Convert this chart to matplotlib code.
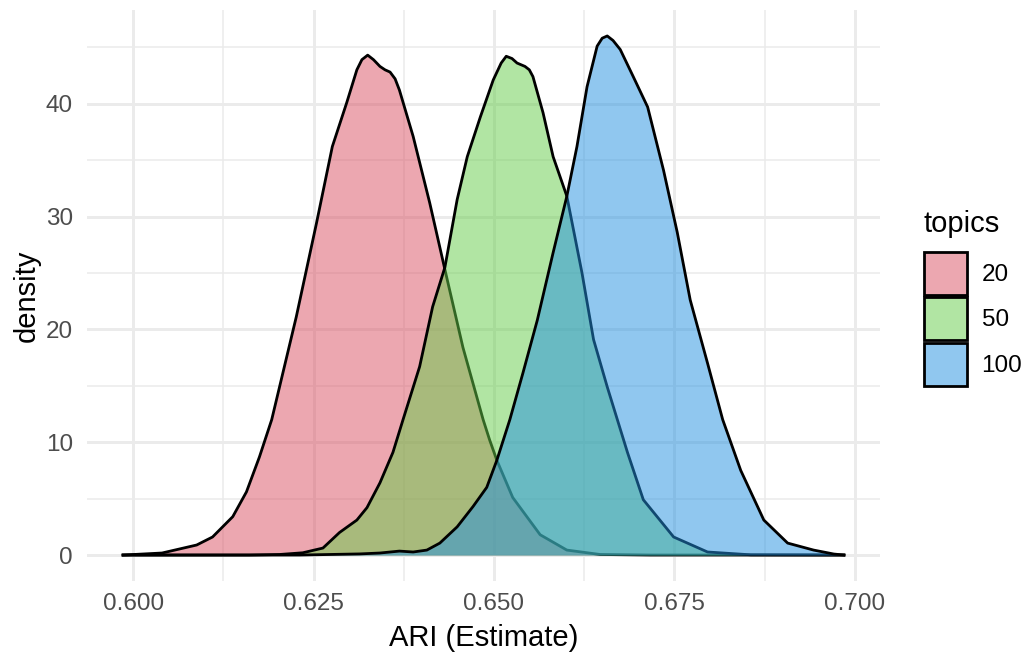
import matplotlib
matplotlib.use("Agg")
import matplotlib.pyplot as plt
from matplotlib.patches import Patch
from matplotlib.colors import to_rgba

plt.rcParams['font.family'] = ['Liberation Sans', 'DejaVu Sans']

# density curves (x = ARI estimate, y = density)
x20 = [0.5986, 0.6040, 0.6088, 0.6110, 0.6138, 0.6157, 0.6175, 0.6192, 0.6226,
       0.6254, 0.6276, 0.6296, 0.6310, 0.6317, 0.6325, 0.6333, 0.6342, 0.6349,
       0.6356, 0.6363, 0.6369, 0.6388, 0.6411, 0.6432, 0.6457, 0.6485, 0.6494,
       0.6504, 0.6526, 0.6564, 0.6601, 0.6647, 0.6717, 0.6985]
y20 = [0.0, 0.18, 0.89, 1.6, 3.4, 5.6, 8.7, 12.0, 21.1,
       29.4, 36.2, 40.1, 43.0, 43.9, 44.3, 43.9, 43.3, 43.0,
       42.8, 42.2, 41.2, 37.1, 31.2, 25.3, 18.4, 12.0, 10.2,
       8.4, 5.1, 1.8, 0.44, 0.05, 0.0, 0.0]

x50 = [0.5986, 0.6161, 0.6203, 0.6235, 0.6263, 0.6286, 0.6310, 0.6324, 0.6342,
       0.6360, 0.6374, 0.6397, 0.6415, 0.6432, 0.6449, 0.6463, 0.6481, 0.6499,
       0.6510, 0.6517, 0.6525, 0.6532, 0.6543, 0.6549, 0.6554, 0.6568, 0.6582,
       0.6601, 0.6622, 0.6638, 0.6657, 0.6671, 0.6685, 0.6707, 0.6749, 0.6796,
       0.6856, 0.6985]
y50 = [0.0, 0.0, 0.05, 0.2, 0.62, 2.0, 3.1, 4.2, 6.4,
       9.1, 12.0, 16.7, 22.0, 25.5, 31.5, 35.3, 38.8, 42.1,
       43.6, 44.2, 44.0, 43.6, 43.3, 43.0, 42.4, 39.2, 35.3,
       31.8, 25.0, 19.1, 14.9, 12.0, 9.1, 4.9, 1.6, 0.27,
       0.02, 0.0]

x100 = [0.5986, 0.6231, 0.6314, 0.6342, 0.6369, 0.6388, 0.6407, 0.6425, 0.6449,
        0.6471, 0.6490, 0.6504, 0.6513, 0.6522, 0.6540, 0.6560, 0.6582, 0.6601,
        0.6615, 0.6629, 0.6643, 0.6650, 0.6657, 0.6665, 0.6675, 0.6693, 0.6713,
        0.6735, 0.6754, 0.6772, 0.6796, 0.6817, 0.6842, 0.6874, 0.6907, 0.6943,
        0.6971, 0.6985]
y100 = [0.0, 0.0, 0.1, 0.18, 0.35, 0.27, 0.44, 1.06, 2.5,
        4.3, 6.0, 8.4, 10.2, 12.0, 16.1, 20.8, 26.8, 31.8,
        36.2, 41.5, 45.1, 45.8, 46.0, 45.6, 44.8, 42.4, 39.7,
        34.1, 28.6, 22.6, 17.0, 12.0, 7.5, 3.1, 1.06, 0.44,
        0.09, 0.0]

topics = ['20', '50', '100']
colors = ['#DB5163', '#65CD49', '#2391E1']
series = [(x20, y20), (x50, y50), (x100, y100)]

fig = plt.figure(figsize=(10.29, 6.56), dpi=100)
ax = fig.add_axes([87/1029, 1 - 581/656, (880-87)/1029, (581-10)/656])

for i, (xs, ys) in enumerate(series):
    ax.fill_between(xs, 0, ys, color=colors[i], alpha=0.5, lw=0, zorder=3+2*i)
    ax.plot(xs, ys, color='black', lw=2, zorder=4+2*i, solid_joinstyle='round')

ax.set_xticks([0.600, 0.625, 0.650, 0.675, 0.700])
ax.set_xticklabels(['0.600', '0.625', '0.650', '0.675', '0.700'])
ax.set_yticks([0, 10, 20, 30, 40])
ax.set_xticks([0.6125, 0.6375, 0.6625, 0.6875], minor=True)
ax.set_yticks([5, 15, 25, 35, 45], minor=True)
ax.set_xlim(0.5936, 0.7035)
ax.set_ylim(-2.3, 48.3)
ax.grid(which='major', color='#EBEBEB', lw=2.1, zorder=0)
ax.grid(which='minor', color='#EBEBEB', lw=1.1, zorder=0)
ax.tick_params(which='both', length=0, labelsize=17.5, labelcolor='#4D4D4D')
ax.tick_params(axis='x', pad=9)
ax.tick_params(axis='y', pad=10)
for s in ax.spines.values():
    s.set_visible(False)
ax.set_axisbelow(True)

ax.set_xlabel('ARI (Estimate)', fontsize=21, labelpad=6)
ax.set_ylabel('density', fontsize=21, labelpad=4)

handles = [Patch(facecolor=to_rgba(c, 0.5), edgecolor='black', lw=2) for c in colors]
leg = fig.legend(handles, topics, loc='upper left',
                 bbox_to_anchor=(924/1029, 1 - 210/656), frameon=False,
                 fontsize=17.5, title='topics', title_fontsize=21,
                 handlelength=1.75, handleheight=2.35, handletextpad=0.62,
                 labelspacing=0.1, borderpad=0, borderaxespad=0)
leg._legend_box.align = 'left'
leg._legend_box.sep = 10

fig.savefig('out.png', dpi=100)
